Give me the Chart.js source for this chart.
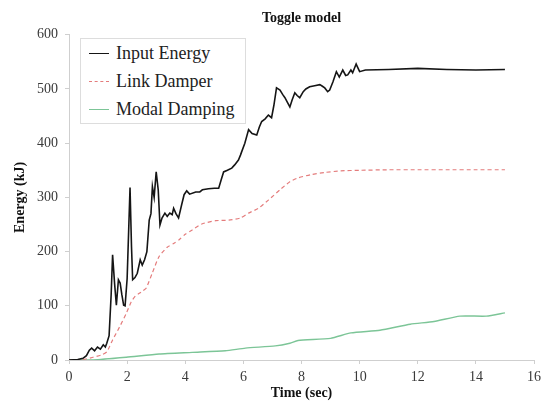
<!DOCTYPE html>
<html>
<head>
<meta charset="utf-8">
<script src="https://cdn.jsdelivr.net/npm/chart.js@4/dist/chart.umd.min.js"></script>
<style>
  html, body { margin: 0; padding: 0; background: #fff; }
  .wrap { position: relative; width: 546px; height: 412px; }
  #legend {
    position: absolute; left: 80px; top: 38px; width: 166px; height: 86px;
    border: 1px solid #ddd; background: #fff;
    font-family: "Liberation Serif", serif; font-size: 18px; color: #222;
    box-sizing: border-box; padding-top: 0px;
  }
  #legend .row { display: flex; align-items: center; height: 28px; }
  #legend .swatch { width: 20px; margin: 0 7px 0 8px; border-top-width: 1.5px; }
</style>
</head>
<body>
<div class="wrap">
  <canvas id="chart" width="546" height="412"></canvas>
  <div id="legend"></div>
</div>
<script>
// series: time (sec) / energy (kJ)
const inputTime = [0, 0.3, 0.48, 0.6, 0.7, 0.78, 0.88, 0.98, 1.08, 1.18, 1.25, 1.3, 1.38, 1.45, 1.5, 1.57, 1.63, 1.7, 1.76, 1.82, 1.88, 1.93, 2.0, 2.1, 2.15, 2.19, 2.27, 2.35, 2.45, 2.52, 2.6, 2.68, 2.76, 2.82, 2.87, 2.93, 3.0, 3.07, 3.13, 3.2, 3.3, 3.38, 3.47, 3.55, 3.6, 3.68, 3.77, 3.87, 3.96, 4.05, 4.15, 4.36, 4.5, 4.59, 4.8, 5.0, 5.15, 5.25, 5.32, 5.45, 5.6, 5.7, 5.83, 5.9, 5.94, 6.05, 6.18, 6.3, 6.46, 6.55, 6.63, 6.75, 6.86, 6.97, 7.05, 7.14, 7.26, 7.35, 7.43, 7.52, 7.6, 7.68, 7.77, 7.85, 7.94, 8.06, 8.15, 8.28, 8.45, 8.63, 8.72, 8.8, 8.9, 8.97, 9.08, 9.2, 9.3, 9.42, 9.52, 9.59, 9.7, 9.76, 9.88, 10.0, 10.2, 11, 12, 13, 14, 15];
const inputEnergy = [0, 1, 3, 8, 18, 22, 17, 24, 20, 28, 24, 31, 45, 120, 194, 140, 101, 148, 142, 120, 101, 100, 150, 318, 210, 148, 152, 160, 185, 175, 185, 200, 258, 270, 320, 300, 347, 314, 249, 262, 271, 265, 271, 268, 280, 270, 262, 285, 305, 312, 306, 310, 310, 314, 316, 317, 317, 335, 347, 350, 354, 360, 369, 378, 384, 400, 425, 418, 415, 430, 440, 445, 452, 447, 470, 502, 498, 490, 484, 475, 467, 480, 493, 488, 484, 495, 500, 504, 506, 508, 505, 502, 495, 498, 513, 532, 522, 535, 525, 526, 535, 530, 546, 532, 535, 536, 538, 536, 535, 536];

const linkTime = [0, 0.4, 0.83, 1.1, 1.3, 1.5, 1.74, 1.97, 2.14, 2.28, 2.42, 2.55, 2.66, 2.87, 3.1, 3.38, 3.6, 3.79, 4.0, 4.24, 4.57, 5.05, 5.5, 5.9, 6.18, 6.52, 6.86, 7.26, 7.6, 7.88, 8.33, 8.8, 9.35, 10, 11, 12, 13, 14, 15];
const linkEnergy = [0, 0, 5, 9, 15, 37, 61, 86, 107, 118, 123, 128, 133, 161, 191, 208, 215, 222, 232, 240, 251, 257, 258, 262, 271, 280, 295, 314, 329, 336, 342, 346, 349, 350, 351, 351, 351, 351, 351];

const modalTime = [0, 0.83, 1.97, 3.1, 4.24, 5.38, 6.07, 7.1, 7.6, 7.88, 9.0, 9.7, 10.7, 11.74, 12.56, 13.45, 14.36, 15];
const modalEnergy = [0, 0, 5, 11, 14, 17, 22, 26, 31, 36, 40, 50, 55, 66, 71, 81, 81, 87];

const xTicks = [0, 2, 4, 6, 8, 10, 12, 14, 16];
const yTicks = [0, 100, 200, 300, 400, 500, 600];

const seriesNames = ['Input Energy', 'Link Damper', 'Modal Damping'];

function toPoints(ts, vs) {
    return ts.map((t, i) => ({x: t, y: vs[i]}));
}

const serif = '"Liberation Serif", "Times New Roman", serif';

const datasets = [
    {
        label: seriesNames[0],
        data: toPoints(inputTime, inputEnergy),
        borderColor: '#151515',
        borderWidth: 1.6,
        pointRadius: 0,
        tension: 0
    },
    {
        label: seriesNames[1],
        data: toPoints(linkTime, linkEnergy),
        borderColor: '#e47c7c',
        borderWidth: 1.2,
        borderDash: [4, 3],
        pointRadius: 0,
        tension: 0.2
    },
    {
        label: seriesNames[2],
        data: toPoints(modalTime, modalEnergy),
        borderColor: '#7cc597',
        borderWidth: 1.4,
        pointRadius: 0,
        tension: 0.2
    }
];

const axisGrey = '#cfcfcf';

const chart = new Chart(document.getElementById('chart'), {
    type: 'line',
    data: {datasets: datasets},
    options: {
        responsive: false,
        animation: false,
        layout: {padding: {left: 0, right: 8, top: 0, bottom: 0}},
        plugins: {
            legend: {display: false},
            tooltip: {enabled: false},
            title: {
                display: true,
                fullSize: false,
                text: 'Toggle model',
                color: '#111',
                font: {family: serif, size: 14, weight: 'bold'},
                padding: {top: 10, bottom: 8}
            }
        },
        scales: {
            x: {
                type: 'linear',
                min: 0,
                max: 16,
                afterBuildTicks: (s) => { s.ticks = xTicks.map(v => ({value: v})); },
                afterFit: (s) => { s.height = 52; },
                grid: {display: true, drawOnChartArea: false, color: axisGrey, tickLength: 4},
                border: {color: axisGrey},
                ticks: {color: '#3a3a3a', font: {family: serif, size: 14}, padding: 5, maxRotation: 0},
                title: {
                    display: true,
                    text: 'Time (sec)',
                    color: '#111',
                    font: {family: serif, size: 14, weight: 'bold'},
                    padding: {top: 2, bottom: 10}
                }
            },
            y: {
                min: 0,
                max: 600,
                afterBuildTicks: (s) => { s.ticks = yTicks.map(v => ({value: v})); },
                afterFit: (s) => { s.width = 69; },
                grid: {display: true, drawOnChartArea: false, color: axisGrey, tickLength: 4},
                border: {color: axisGrey},
                ticks: {color: '#3a3a3a', font: {family: serif, size: 14}, padding: 7},
                title: {
                    display: true,
                    text: 'Energy (kJ)',
                    color: '#111',
                    font: {family: serif, size: 14, weight: 'bold'},
                    padding: {top: 12, bottom: 0}
                }
            }
        }
    }
});

// legend box inside the plot, built from the datasets
const legendBox = document.getElementById('legend');
chart.data.datasets.forEach(ds => {
    const row = document.createElement('div');
    row.className = 'row';
    const sw = document.createElement('span');
    sw.className = 'swatch';
    sw.style.borderTopStyle = ds.borderDash ? 'dashed' : 'solid';
    sw.style.borderTopColor = ds.borderColor;
    const txt = document.createElement('span');
    txt.textContent = ds.label;
    row.appendChild(sw);
    row.appendChild(txt);
    legendBox.appendChild(row);
});
</script>
</body>
</html>
